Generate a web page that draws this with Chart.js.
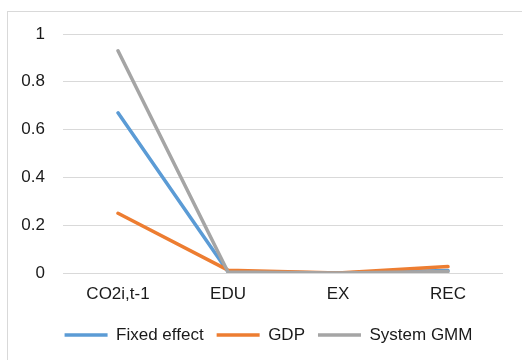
<!DOCTYPE html>
<html>
<head>
<meta charset="utf-8">
<script src="https://cdn.jsdelivr.net/npm/chart.js@4/dist/chart.umd.min.js"></script>
<style>
  html, body { margin: 0; padding: 0; background: #fff; overflow: hidden; }
  #frame { position: absolute; left: 7px; top: 11px; width: 600px; height: 400px; border: 1px solid #d9d9d9; box-sizing: border-box; }
  #wrap { position: absolute; left: 0; top: 0; width: 522px; height: 360px; }
</style>
</head>
<body>
<div id="frame"></div>
<div id="wrap"><canvas id="c" width="522" height="360"></canvas></div>
<script>
const categories = ["CO2i,t-1", "EDU", "EX", "REC"];
const fixedEffect = [0.67, 0.005, 0.0, 0.01];
const gdp = [0.25, 0.012, 0.0, 0.027];
const systemGMM = [0.93, 0.004, 0.0, 0.006];
const seriesNames = ["Fixed effect", "GDP", "System GMM"];
const yTicks = { min: 0, max: 1, step: 0.2 };

const FONT = "'Liberation Sans', Arial, Helvetica, sans-serif";
const TXT = "#1a1a1a";

function ds(label, data, color, order) {
  return {
    label, data, order,
    borderColor: color, backgroundColor: color,
    borderWidth: 3.5, pointRadius: 0, pointHoverRadius: 0,
    tension: 0, borderCapStyle: 'round', borderJoinStyle: 'round', fill: false
  };
}

const legendShift = {
  id: 'legendShift',
  afterLayout(chart) {
    const l = chart.legend;
    if (l) { l.left += 17; l.right += 17; }
  }
};

new Chart(document.getElementById('c'), {
  type: 'line',
  data: {
    labels: categories,
    datasets: [
      ds(seriesNames[0], fixedEffect, '#5B9BD5', 2),
      ds(seriesNames[1], gdp, '#ED7D31', 1),
      ds(seriesNames[2], systemGMM, '#A5A5A5', 0)
    ]
  },
  plugins: [legendShift],
  options: {
    responsive: false,
    animation: false,
    devicePixelRatio: 1,
    layout: { padding: { top: 34, left: 0, right: 19, bottom: 6.5 } },
    plugins: {
      tooltip: { enabled: false },
      legend: {
        position: 'bottom',
        labels: {
          usePointStyle: true,
          pointStyle: 'line',
          pointStyleWidth: 43,
          boxHeight: 17,
          padding: 13,
          color: TXT,
          font: { family: FONT, size: 17 },
          sort: (a, b) => a.datasetIndex - b.datasetIndex
        }
      }
    },
    scales: {
      x: {
        offset: true,
        grid: { display: false, drawTicks: false },
        border: { display: false },
        ticks: { color: TXT, font: { family: FONT, size: 17 }, padding: 11, maxRotation: 0 },
        afterFit: s => { s.height = 40.5; }
      },
      y: {
        min: yTicks.min, max: yTicks.max,
        grid: { color: '#d9d9d9', lineWidth: 1, drawTicks: false },
        border: { display: false },
        ticks: {
          stepSize: yTicks.step, color: TXT, font: { family: FONT, size: 17 }, padding: 18,
          callback: v => String(Math.round(v * 10) / 10)
        },
        afterFit: s => { s.width = 63; }
      }
    }
  }
});
</script>
</body>
</html>
